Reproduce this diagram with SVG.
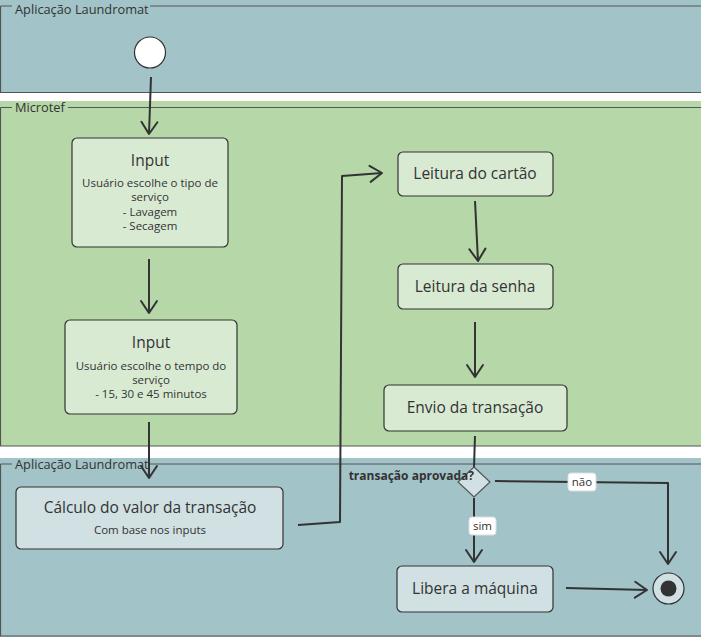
<svg xmlns="http://www.w3.org/2000/svg" width="701" height="637" viewBox="0 0 701 637">
<defs>
<marker id="arr" viewBox="0 0 20 20" refX="16" refY="10" markerWidth="20" markerHeight="20" markerUnits="userSpaceOnUse" orient="auto">
<path d="M4,2 L16,10 L4,18" fill="none" stroke="#333" stroke-width="2" stroke-linecap="round" stroke-linejoin="round"/>
</marker>
<style>
text{font-family:"Open Sans","Liberation Sans",sans-serif;fill:#333}
.lane-line{stroke:#555;stroke-width:1.2;fill:none}
.lane-label{font-size:12.8px}
.box-g{fill:#d9ead3;stroke:#333;stroke-width:1.2}
.box-b{fill:#d0e0e3;stroke:#333;stroke-width:1.2}
.t{font-size:15.5px;text-anchor:middle}
.s{font-size:11.5px;text-anchor:middle}
.c{stroke:#333;stroke-width:2;fill:none;marker-end:url(#arr);stroke-linejoin:round}
.cl{stroke:#333;stroke-width:2;fill:none;stroke-linejoin:round}
.lbl{fill:#fff;stroke:#ddd;stroke-width:1}
</style>
</defs>
<rect x="0" y="0" width="701" height="637" fill="#fff"/>
<g id="lane1">
<rect x="0" y="0" width="701" height="93" fill="#a2c3c8"/>
<path class="lane-line" d="M0.5,6 H12 M150,6 H701 M0.5,6 V92.5 H701"/>
<text class="lane-label" x="15" y="13.5">Aplicação Laundromat</text>
</g>
<g id="lane2">
<rect x="0" y="101" width="701" height="345" fill="#b6d7a8"/>
<path class="lane-line" d="M0.5,107.5 H12 M68,107.5 H701 M0.5,107.5 V446 H701"/>
<text class="lane-label" x="15" y="112">Microtef</text>
</g>
<g id="lane3">
<rect x="0" y="458" width="701" height="179" fill="#a2c3c8"/>
<path class="lane-line" d="M0.5,464 H12 M150,464 H701 M0.5,464 V636 H701"/>
<text class="lane-label" x="15" y="468.5">Aplicação Laundromat</text>
</g>
<g id="connectors">
<path class="c" d="M151,77 L149,134"/>
<path class="c" d="M149,259 L149,313"/>
<path class="c" d="M149,422 L149,478"/>
<path class="c" d="M298,525 L340,522 L342,176 L382,173"/>
<path class="c" d="M475,201 L478,261"/>
<path class="c" d="M475,322 L475,377"/>
<path class="cl" d="M475,436 L474,467"/>
<path class="c" d="M495,481 L668,483 L668,564"/>
<path class="c" d="M474,498 L474,562"/>
<path class="c" d="M566,588 L647,590"/>
<rect class="lbl" x="568" y="473" width="28" height="18" rx="3"/>
<text x="582" y="486" font-size="11.5" text-anchor="middle">não</text>
<rect class="lbl" x="469" y="517" width="27" height="18" rx="3"/>
<text x="482.5" y="530" font-size="11.5" text-anchor="middle">sim</text>
</g>
<g id="start">
<circle cx="150" cy="52.5" r="15.5" fill="#fff" stroke="#333" stroke-width="1.2"/>
</g>
<g id="input1">
<rect class="box-g" x="72" y="138" width="156" height="109" rx="5"/>
<text class="t" x="150" y="166">Input</text>
<text class="s" x="150" y="187">Usuário escolhe o tipo de</text>
<text class="s" x="150" y="201">serviço</text>
<text class="s" x="150" y="216">- Lavagem</text>
<text class="s" x="150" y="230">- Secagem</text>
</g>
<g id="input2">
<rect class="box-g" x="65" y="320" width="172" height="94" rx="5"/>
<text class="t" x="151" y="348">Input</text>
<text class="s" x="151" y="370">Usuário escolhe o tempo do</text>
<text class="s" x="151" y="384">serviço</text>
<text class="s" x="151" y="398">- 15, 30 e 45 minutos</text>
</g>
<g id="calculo">
<rect class="box-b" x="16" y="487" width="267" height="62" rx="5"/>
<text class="t" x="150" y="513" font-size="16.5">Cálculo do valor da transação</text>
<text class="s" x="150" y="534">Com base nos inputs</text>
</g>
<g id="cartao">
<rect class="box-g" x="398" y="152" width="155" height="44" rx="5"/>
<text class="t" x="475" y="179">Leitura do cartão</text>
</g>
<g id="senha">
<rect class="box-g" x="398" y="264" width="155" height="45" rx="5"/>
<text class="t" x="475" y="292">Leitura da senha</text>
</g>
<g id="envio">
<rect class="box-g" x="384" y="385" width="183" height="46" rx="5"/>
<text class="t" x="475" y="413">Envio da transação</text>
</g>
<g id="decisao">
<path d="M474,467 L490,482 L474,497 L458,482 Z" fill="#d0e0e3" stroke="#555" stroke-width="1.2"/>
<text x="474" y="480" font-size="12" font-weight="bold" text-anchor="end">transação aprovada?</text>
</g>
<g id="libera">
<rect class="box-b" x="397" y="566" width="156" height="46" rx="5"/>
<text class="t" x="475" y="594">Libera a máquina</text>
</g>
<g id="end">
<circle cx="668.5" cy="588.5" r="15.5" fill="#d0e0e3" stroke="#333" stroke-width="1.2"/>
<circle cx="668.5" cy="588.5" r="8" fill="#333"/>
</g>
</svg>
